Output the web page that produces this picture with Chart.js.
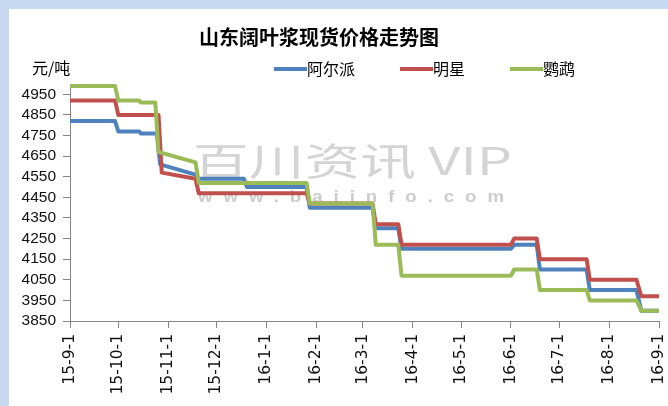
<!DOCTYPE html>
<html><head><meta charset="utf-8">
<script src="https://cdn.jsdelivr.net/npm/chart.js@4/dist/chart.umd.min.js"></script>
<style>html,body{margin:0;padding:0;background:#fff;}canvas{display:block;}</style>
</head><body>
<canvas id="c" width="668" height="406"></canvas>
<script>
const chartTitle = '山东阔叶浆现货价格走势图';
const unitLabel = '元/吨';
const seriesNames = ['阿尔派', '明星', '鹦鹉'];
const seriesColors = ['#4F81BD', '#C0504D', '#9BBB59'];

const aerpaiDates = ['2015-09-01','2015-09-29','2015-10-01','2015-10-14','2015-10-15','2015-10-25','2015-10-27','2015-11-18','2015-11-20','2015-12-18','2015-12-20','2016-01-26','2016-01-28','2016-03-07','2016-03-09','2016-03-23','2016-03-25','2016-06-01','2016-06-03','2016-06-17','2016-06-19','2016-07-18','2016-07-20','2016-08-18','2016-08-21','2016-09-01'];
const aerpaiValues = [4820,4820,4770,4770,4760,4760,4610,4560,4540,4540,4500,4500,4400,4400,4300,4300,4200,4200,4220,4220,4100,4100,4000,4000,3900,3900];

const mingxingDates = ['2015-09-01','2015-09-29','2015-10-01','2015-10-26','2015-10-28','2015-11-18','2015-11-20','2016-01-26','2016-01-28','2016-03-07','2016-03-09','2016-03-23','2016-03-25','2016-06-01','2016-06-03','2016-06-17','2016-06-19','2016-07-18','2016-07-20','2016-08-18','2016-08-21','2016-09-01'];
const mingxingValues = [4920,4920,4850,4850,4570,4540,4470,4470,4420,4420,4320,4320,4220,4220,4250,4250,4150,4150,4050,4050,3970,3970];

const yingwuDates = ['2015-09-01','2015-09-29','2015-10-01','2015-10-14','2015-10-15','2015-10-24','2015-10-26','2015-11-18','2015-11-20','2016-01-26','2016-01-28','2016-03-07','2016-03-09','2016-03-23','2016-03-25','2016-06-01','2016-06-03','2016-06-17','2016-06-19','2016-07-18','2016-07-20','2016-08-18','2016-08-21','2016-09-01'];
const yingwuValues = [4990,4990,4920,4920,4910,4910,4670,4620,4520,4520,4420,4420,4220,4220,4070,4070,4100,4100,4000,4000,3950,3950,3900,3900];

const xTickLabels = ['15-9-1','15-10-1','15-11-1','15-12-1','16-1-1','16-2-1','16-3-1','16-4-1','16-5-1','16-6-1','16-7-1','16-8-1','16-9-1'];
const yTickValues = [3850,3950,4050,4150,4250,4350,4450,4550,4650,4750,4850,4950];
const yMin = 3850, yMax = 5000;
const watermarkLines = ['百川资讯 VIP', 'www.baiinfo.com'];

const origin = Date.UTC(2015, 8, 1);
function dayOf(iso) { const [y, m, d] = iso.split('-').map(Number); return Math.round((Date.UTC(y, m - 1, d) - origin) / 86400000); }
function dayOfTick(lbl) { const [y, m, d] = lbl.split('-').map(Number); return Math.round((Date.UTC(2000 + y, m - 1, d) - origin) / 86400000); }
const xTickValues = xTickLabels.map(dayOfTick);
function toPoints(dates, vals) { return dates.map((d, i) => ({ x: dayOf(d), y: vals[i] })); }

function drawSpan(ctx, text, font, x0, x1, yc, color, spacing) {
  ctx.save();
  ctx.font = font;
  if (spacing) ctx.letterSpacing = spacing;
  ctx.textBaseline = 'middle';
  ctx.textAlign = 'left';
  const w = ctx.measureText(text).width;
  ctx.translate(x0, yc);
  ctx.scale((x1 - x0) / w, 1);
  ctx.fillStyle = color;
  ctx.fillText(text, 0, 0);
  ctx.restore();
}

const decor = {
  id: 'decor',
  beforeDraw(chart) {
    const { ctx, width, height } = chart;
    ctx.save();
    ctx.fillStyle = '#C6D9F1';
    ctx.fillRect(0, 0, width, height);
    ctx.fillStyle = '#FFFFFF';
    ctx.fillRect(9, 9, width - 9, height - 9);
    ctx.restore();
  },
  beforeDatasetsDraw(chart) {
    const ctx = chart.ctx;
    drawSpan(ctx, watermarkLines[0], '38px "Noto Sans CJK SC"', 193, 512, 161, 'rgba(205,205,205,0.85)');
    drawSpan(ctx, watermarkLines[1], 'bold 17px "Liberation Sans"', 198, 515, 197, 'rgba(195,195,195,0.85)', '10px');
  },
  afterDraw(chart) {
    const ctx = chart.ctx;
    ctx.save();
    ctx.fillStyle = '#000';
    ctx.textBaseline = 'middle';
    ctx.textAlign = 'center';
    ctx.font = 'bold 20px "Noto Sans CJK SC"';
    ctx.fillText(chartTitle, 319, 37);
    ctx.textAlign = 'left';
    ctx.font = '16px "Noto Sans CJK SC"';
    ctx.fillText(unitLabel, 32, 68);
    let x = 274;
    const y = 69;
    chart.data.datasets.slice().sort((a, b) => a.legendIndex - b.legendIndex).forEach(ds => {
      ctx.strokeStyle = ds.borderColor;
      ctx.lineWidth = 4;
      ctx.beginPath();
      ctx.moveTo(x, y);
      ctx.lineTo(x + 33, y);
      ctx.stroke();
      ctx.fillStyle = '#000';
      ctx.fillText(ds.label, x + 33, y);
      x += 33 + ctx.measureText(ds.label).width + 45;
    });
    ctx.restore();
  }
};

const mk = (i, dates, vals, order) => ({
  label: seriesNames[i],
  data: toPoints(dates, vals),
  borderColor: seriesColors[i],
  backgroundColor: seriesColors[i],
  borderWidth: 4,
  pointRadius: 0,
  pointHoverRadius: 0,
  tension: 0,
  borderJoinStyle: 'round',
  order: order,
  legendIndex: i
});

new Chart(document.getElementById('c'), {
  type: 'line',
  data: {
    datasets: [
      mk(0, aerpaiDates, aerpaiValues, 2),
      mk(1, mingxingDates, mingxingValues, 1),
      mk(2, yingwuDates, yingwuValues, 0)
    ]
  },
  options: {
    responsive: false,
    animation: false,
    devicePixelRatio: 1,
    layout: { padding: { top: 84, right: 9, left: 0, bottom: 0 } },
    plugins: { legend: { display: false }, tooltip: { enabled: false }, title: { display: false } },
    scales: {
      x: {
        type: 'linear',
        min: xTickValues[0],
        max: xTickValues[xTickValues.length - 1],
        afterBuildTicks(s) { s.ticks = xTickValues.map(v => ({ value: v })); },
        afterFit(s) { s.height = 85; s.paddingLeft = 0; s.paddingRight = 0; },
        ticks: {
          autoSkip: false,
          maxRotation: 90,
          minRotation: 90,
          padding: 6,
          color: '#111',
          font: { family: '"DejaVu Sans"', size: 15.5 },
          callback(v, i) { return xTickLabels[i]; }
        },
        grid: { display: true, drawOnChartArea: false, drawTicks: true, tickLength: 7, color: '#868686' },
        border: { display: true, color: '#868686', width: 1 }
      },
      y: {
        type: 'linear',
        min: yMin,
        max: yMax,
        afterBuildTicks(s) { s.ticks = yTickValues.map(v => ({ value: v })); },
        afterFit(s) { s.width = 70; s.paddingTop = 0; s.paddingBottom = 0; },
        ticks: {
          autoSkip: false,
          padding: 7,
          color: '#111',
          font: { family: '"Liberation Sans"', size: 15.5 },
          callback(v) { return String(v); }
        },
        grid: { display: true, drawOnChartArea: false, drawTicks: true, tickLength: 7, color: '#868686' },
        border: { display: true, color: '#868686', width: 1 }
      }
    }
  },
  plugins: [decor]
});
</script>
</body></html>
